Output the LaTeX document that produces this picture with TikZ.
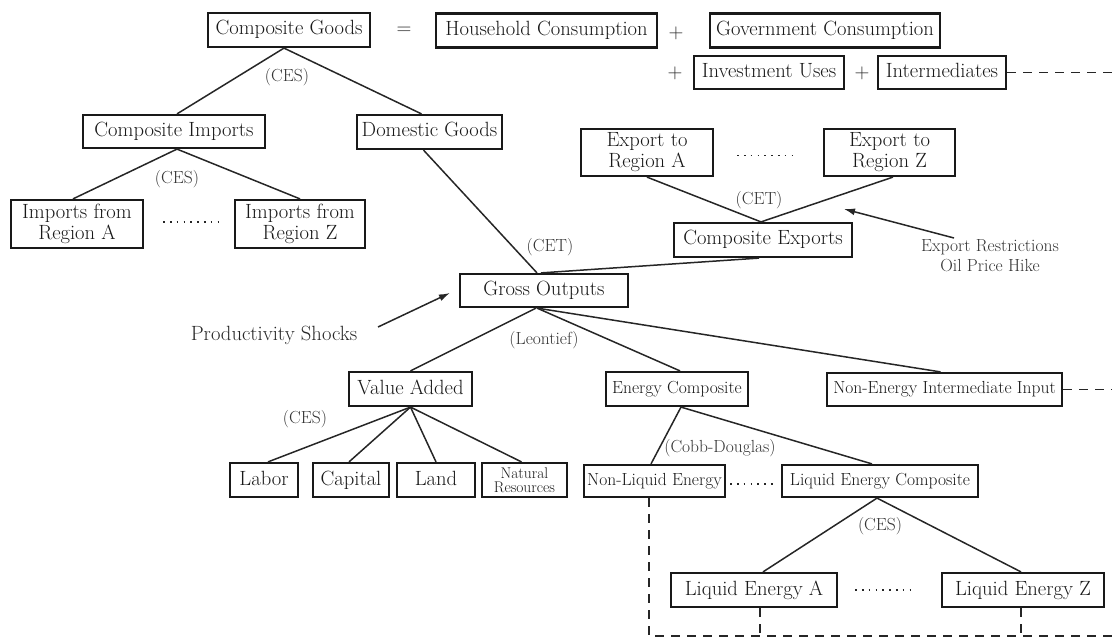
\documentclass[tikz,border=0pt]{standalone}
\usetikzlibrary{arrows.meta,calc}
\newcommand\FontBig{\fontsize{20.6}{21}\selectfont}
\newcommand\FontMid{\fontsize{17.5}{20}\selectfont}
\newcommand\FontSml{\fontsize{15.5}{14}\selectfont}
\begin{document}
\begin{tikzpicture}[x=1pt,y=-1pt,
  box/.style={draw=black!90, line width=2.2, inner sep=0, align=center, text=black!90, font=\FontBig, text height=14.5, text depth=4.5},
  two/.style={text height=, text depth=},
  sbox/.style={box, font=\FontMid, text height=12.5, text depth=4},
  lbl/.style={inner sep=0, text=black!80, font=\FontMid, align=center},
  op/.style={inner sep=0, text=black!85, font=\FontBig},
  conn/.style={draw=black!85, line width=1.5},
  dsh/.style={draw=black!85, line width=1.5, dash pattern=on 9 off 7},
  dotl/.style={draw=black!85, line width=1.6, dash pattern=on 1.6 off 5.2},
  arr/.style={draw=black!85, line width=1.5, -{Latex[length=11,width=7]}}]
\useasboundingbox (0,0) rectangle (1112,639);
\coordinate (redge) at (1112,0);
\coordinate (br) at (1112,636);
% top row
\node[box, minimum width=162, minimum height=34] (cg) at (289,30) {Composite Goods};
\node[op] (eq) at (404,31) {=};
\node[box, minimum width=221, minimum height=34] (hc) at (546.5,30.5) {Household Consumption};
\node[op] (p1) at (676,33) {+};
\node[box, minimum width=230, minimum height=34] (gc) at (825,30.5) {Government Consumption};
\node[op] (p2) at (675,73) {+};
\node[box, minimum width=150, minimum height=33] (iu) at (769,72.5) {Investment Uses};
\node[op] (p3) at (862,73) {+};
\node[box, minimum width=128, minimum height=33] (im) at (942,72.5) {Intermediates};
\draw[dsh] (im.east) -- (im.east -| redge);
% imports / domestic
\node[box, minimum width=182, minimum height=33] (ci) at (174,131.5) {Composite Imports};
\node[box, minimum width=145, minimum height=34] (dg) at (429.5,132) {Domestic Goods};
\node[lbl] (ces1) at (287,77) {(CES)};
\draw[conn] ([xshift=-5]cg.south) -- ([xshift=3]ci.north);
\draw[conn] ([xshift=-5]cg.south) -- ([xshift=-8]dg.north);
\node[box, two, minimum width=132, minimum height=48] (ia) at (77,224) {Imports from\\Region A};
\node[box, two, minimum width=130, minimum height=48] (iz) at (300,224) {Imports from\\Region Z};
\node[lbl] (ces2) at (177,179) {(CES)};
\draw[conn] ([xshift=3]ci.south) -- ([xshift=-4]ia.north);
\draw[conn] ([xshift=3]ci.south) -- (iz.north);
\draw[dotl, shorten <=19, shorten >=12] ([yshift=2]ia.east) -- ([yshift=2]iz.west);
% exports
\node[box, two, minimum width=132, minimum height=47] (ea) at (647,152.5) {Export to\\Region A};
\node[box, two, minimum width=131, minimum height=47] (ez) at (889.5,152.5) {Export to\\Region Z};
\draw[dotl, shorten <=23, shorten >=26] ([yshift=-3]ea.east) -- ([yshift=-3]ez.west);
\node[box, minimum width=178, minimum height=34] (ce) at (763,240) {Composite Exports};
\node[lbl] (cet2) at (759,200) {(CET)};
\draw[conn] (ea.south) -- ([xshift=-2]ce.north);
\draw[conn] ([xshift=3.5]ez.south) -- ([xshift=-2]ce.north);
\node[lbl] (er) at (990,256) {Export Restrictions\\Oil Price Hike};
\coordinate (erA) at (954,238);
\coordinate (erB) at (844,209);
\draw[arr] (erA) -- (erB);
% gross outputs
\node[box, minimum width=168, minimum height=33] (go) at (544,290.5) {Gross Outputs};
\node[lbl] (cet1) at (550,247) {(CET)};
\draw[conn] ([xshift=-6]dg.south) -- ([xshift=-7]go.north);
\draw[conn] ([xshift=-3]go.north) -- ([xshift=-4]ce.south);
\node[op] (ps) at (274,335) {Productivity Shocks};
\coordinate (psA) at (378,327);
\draw[arr] (psA) -- ([shift={(-9,2.5)}]go.west);
\node[lbl] (leon) at (544,340) {(Leontief)};
% second level
\node[box, minimum width=123, minimum height=34] (va) at (410.5,389) {Value Added};
\node[sbox, minimum width=142, minimum height=34] (ec) at (677,389) {Energy Composite};
\node[sbox, minimum width=235, minimum height=33] (ne) at (944.5,389.5) {Non-Energy Intermediate Input};
\draw[dsh] (ne.east) -- (ne.east -| redge);
\draw[conn] ([xshift=-8]go.south) -- (va.north);
\draw[conn] ([xshift=-7]go.south) -- ([xshift=3]ec.north);
\draw[conn] ([xshift=-7]go.south) -- ([xshift=-4]ne.north);
% factors
\node[lbl] (ces3) at (305,419) {(CES)};
\node[box, minimum width=68, minimum height=34] (lab) at (264,480) {Labor};
\node[box, minimum width=76, minimum height=34] (cap) at (351,480) {Capital};
\node[box, minimum width=78, minimum height=34] (lnd) at (436,480) {Land};
\node[box, two, font=\FontSml, minimum width=85, minimum height=34] (nr) at (524.5,480) {Natural\\Resources};
\draw[conn] (va.south) -- ([xshift=4]lab.north);
\draw[conn] (va.south) -- ([xshift=-2]cap.north);
\draw[conn] (va.south) -- (lnd.north);
\draw[conn] (va.south) -- ([xshift=-3]nr.north);
% energy
\node[lbl] (cd) at (720,448) {(Cobb-Douglas)};
\node[sbox, minimum width=141, minimum height=32] (nle) at (654.5,481) {Non-Liquid Energy};
\node[sbox, minimum width=196, minimum height=32] (lec) at (880,481) {Liquid Energy Composite};
\draw[conn] ([xshift=4]ec.south) -- ([xshift=-3.5]nle.north);
\draw[conn] ([xshift=4]ec.south) -- ([xshift=-8]lec.north);
\draw[dotl, shorten <=4, shorten >=5] ([yshift=-3]nle.east) -- ([yshift=-3]lec.west);
\node[lbl] (ces4) at (880,526) {(CES)};
\node[box, minimum width=166, minimum height=34] (lea) at (754,590) {Liquid Energy A};
\node[box, minimum width=162, minimum height=34] (lez) at (1023,590) {Liquid Energy Z};
\draw[conn] ([xshift=-3]lec.south) -- ([xshift=9]lea.north);
\draw[conn] ([xshift=-3]lec.south) -- ([xshift=-2]lez.north);
\draw[dotl, shorten <=17, shorten >=25] (lea.east) -- (lez.west);
% dashed returns
\draw[dsh] ([xshift=-5.5]nle.south) |- (br);
\draw[dsh] ([xshift=6]lea.south) -- ([xshift=6]lea.south |- br);
\draw[dsh] ([xshift=-2]lez.south) -- ([xshift=-2]lez.south |- br);
\end{tikzpicture}
\end{document}
